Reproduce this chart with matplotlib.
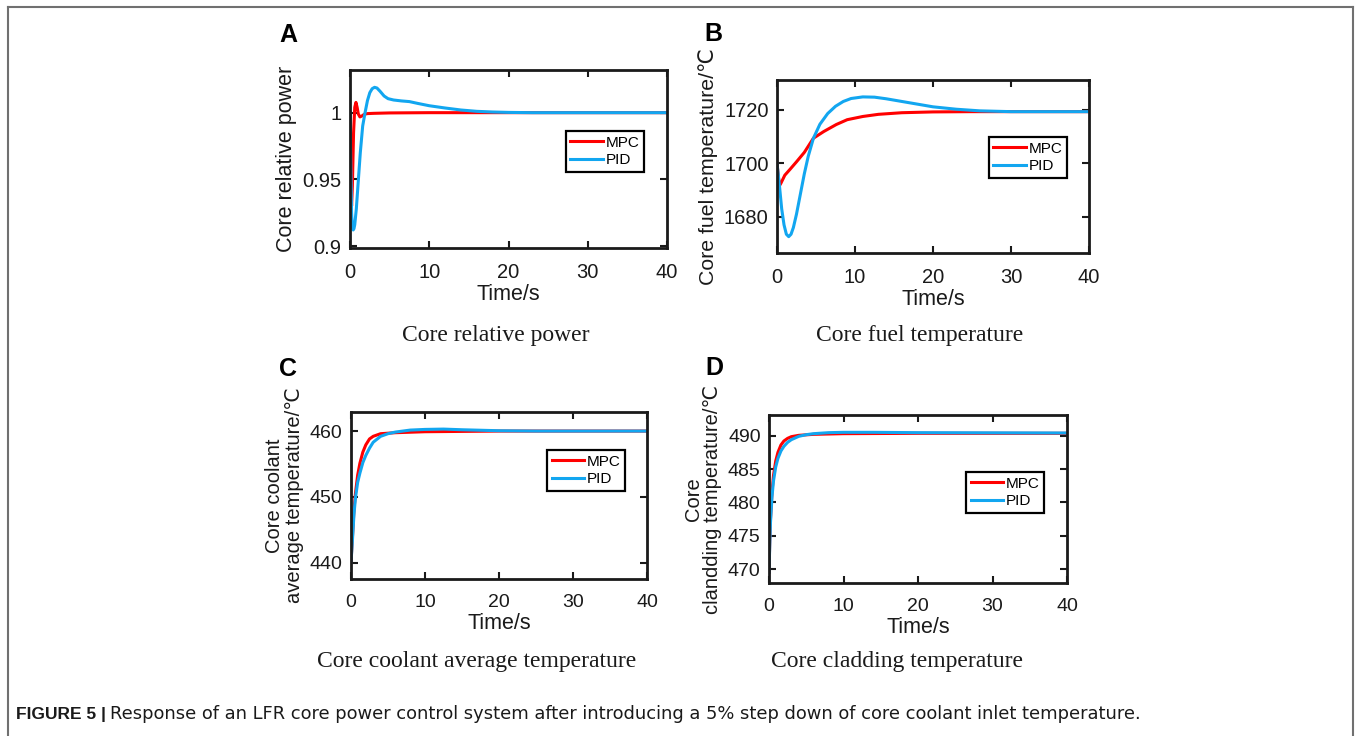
import numpy as np
import matplotlib
matplotlib.use('Agg')
import matplotlib.pyplot as plt
from matplotlib.lines import Line2D

plt.rcParams['font.family'] = ['Liberation Sans', 'DejaVu Sans']

# ---- data ----
# A: core relative power
t_a_mpc = [0, 0.1, 0.2, 0.3, 0.45, 0.6, 0.75, 0.9, 1.05, 1.25, 1.5, 1.8, 2.2, 3, 5, 10, 40]
p_mpc = [1.0, 0.95, 0.93, 0.945, 0.985, 1.004, 1.0077, 1.004, 0.999, 0.9968, 0.9975,
         0.9988, 0.9993, 0.9995, 0.9998, 1.0, 1.0]
t_a_pid = [0, 0.1, 0.2, 0.3, 0.4, 0.5, 0.6, 0.8, 1.0, 1.3, 1.6, 1.9, 2.2, 2.5, 2.8, 3.1,
           3.4, 3.8, 4.3, 4.8, 5.5, 6.5, 7.5, 8.5, 10, 12, 14, 16, 18, 20, 23, 40]
p_pid = [1.0, 0.96, 0.925, 0.914, 0.912, 0.913, 0.916, 0.928, 0.945, 0.97, 0.99, 1.0,
         1.009, 1.015, 1.018, 1.019, 1.0185, 1.016, 1.0125, 1.0105, 1.0095, 1.0088,
         1.0083, 1.007, 1.0052, 1.0035, 1.002, 1.001, 1.0005, 1.0002, 1.0, 1.0]

# B: core fuel temperature
t_b_mpc = [0, 0.3, 0.5, 1, 1.7, 2.5, 3.5, 4.67, 6, 7.6, 9, 11, 13, 16, 20, 25, 40]
f_mpc = [1700, 1691.5, 1692.5, 1695.5, 1697.8, 1700.5, 1704, 1709.3, 1711.8, 1714.4,
         1716.2, 1717.4, 1718.2, 1718.8, 1719.1, 1719.2, 1719.2]
t_b_pid = [0, 0.3, 0.6, 0.9, 1.2, 1.5, 1.8, 2.1, 2.5, 3, 3.5, 4, 4.67, 5.5, 6.5, 7.5,
           8.5, 9.5, 11, 12.5, 14, 16, 18, 20, 23, 26, 30, 40]
f_pid = [1700, 1692, 1683, 1677, 1673.5, 1672.6, 1673.5, 1676, 1681, 1688.5, 1696,
         1702.5, 1709.3, 1714.5, 1718.5, 1721.2, 1723, 1724.1, 1724.7, 1724.6, 1724,
         1723, 1722, 1721, 1720.1, 1719.5, 1719.2, 1719.2]

# C: core coolant average temperature
t_c_mpc = [0, 0.2, 0.4, 0.6, 0.9, 1.2, 1.6, 2, 2.5, 3, 4, 6, 10, 20, 40]
c_mpc = [440, 444, 448, 450.5, 453.3, 455.1, 456.8, 457.9, 458.8, 459.2, 459.6, 459.75,
         459.9, 460.0, 460.0]
t_c_pid = [0, 0.2, 0.4, 0.6, 0.9, 1.2, 1.6, 2, 2.5, 3, 4, 5, 6, 8, 10, 12.5, 15, 20, 25, 40]
c_pid = [440, 443.5, 447.3, 449.8, 452.2, 453.6, 455.2, 456.3, 457.4, 458.3, 459.2,
         459.6, 459.85, 460.15, 460.25, 460.3, 460.2, 460.05, 460.0, 460.0]

# D: core cladding temperature
t_d_mpc = [0, 0.1, 0.2, 0.4, 0.6, 0.9, 1.2, 1.6, 2, 2.5, 3, 4, 6, 10, 20, 40]
d_mpc = [469.5, 474, 477.5, 481.5, 484, 486.2, 487.5, 488.6, 489.2, 489.6, 489.85,
         490.05, 490.2, 490.3, 490.35, 490.35]
t_d_pid = [0, 0.1, 0.2, 0.4, 0.6, 0.9, 1.2, 1.6, 2, 2.5, 3, 4, 5, 6, 8, 10, 14, 20, 40]
d_pid = [469.5, 473.5, 477, 480.8, 483.2, 485.3, 486.6, 487.7, 488.4, 489.0, 489.4,
         489.9, 490.15, 490.3, 490.45, 490.5, 490.5, 490.45, 490.4]

W, H = 1356, 736
RED = '#ff0000'
BLUE = '#12a6f0'
INK = '#1a1a1a'

fig = plt.figure(figsize=(W / 100, H / 100), dpi=100)


def px_box(l, t, r, b):
    return [l / W, 1 - b / H, (r - l) / W, (b - t) / H]


def px(x, y):
    return x / W, 1 - y / H


panels = [
    dict(box=(350, 70, 667, 248), t1=t_a_mpc, y1=p_mpc, t2=t_a_pid, y2=p_pid,
         ylim=(0.8985, 1.032), yticks=[0.9, 0.95, 1.0], ylabels=['0.9', '0.95', '1'],
         ylab='Core relative power', leg=(0.681, 0.657), fs=14.5, lfs=15.5),
    dict(box=(777, 80, 1089, 253), t1=t_b_mpc, y1=f_mpc, t2=t_b_pid, y2=f_pid,
         ylim=(1666.5, 1731), yticks=[1680, 1700, 1720], ylabels=['1680', '1700', '1720'],
         ylab='Core fuel temperature/\u2103', leg=(0.679, 0.671), fs=14.5, lfs=15.3),
    dict(box=(351, 412, 647, 579), t1=t_c_mpc, y1=c_mpc, t2=t_c_pid, y2=c_pid,
         ylim=(437.5, 462.9), yticks=[440, 450, 460], ylabels=['440', '450', '460'],
         ylab='Core coolant\naverage temperature/\u2103', leg=(0.662, 0.772), fs=14, lfs=14.5),
    dict(box=(769, 415, 1067, 583), t1=t_d_mpc, y1=d_mpc, t2=t_d_pid, y2=d_pid,
         ylim=(467.9, 493.1), yticks=[470, 475, 480, 485, 490],
         ylabels=['470', '475', '480', '485', '490'],
         ylab='Core\nclandding temperature/\u2103', leg=(0.661, 0.661), fs=14, lfs=14.5),
]

for p in panels:
    ax = fig.add_axes(px_box(*p['box']))
    ax.plot(p['t1'], p['y1'], color=RED, lw=2.2, label='MPC')
    ax.plot(p['t2'], p['y2'], color=BLUE, lw=2.2, label='PID')
    ax.set_xlim(0, 40)
    ax.set_ylim(*p['ylim'])
    ax.set_xticks([0, 10, 20, 30, 40])
    ax.set_yticks(p['yticks'])
    ax.set_yticklabels(p['ylabels'])
    ax.tick_params(direction='in', length=5, width=1.5, top=True, right=True,
                   labelsize=p['fs'], colors=INK)
    ax.tick_params(axis='x', pad=11)
    ax.tick_params(axis='y', pad=6)
    for s in ax.spines.values():
        s.set_linewidth(2)
        s.set_color(INK)
    ax.set_xlabel('Time/s', fontsize=15.5, color=INK, labelpad=1)
    ax.set_ylabel(p['ylab'], fontsize=p['lfs'], color=INK, labelpad=4,
                  linespacing=1.05)
    leg = ax.legend(loc='upper left', bbox_to_anchor=p['leg'], borderaxespad=0,
                    fontsize=11, handlelength=2.1, handletextpad=0.2,
                    labelspacing=0.25, borderpad=0.3, fancybox=False, framealpha=1)
    leg.get_frame().set_edgecolor('black')
    leg.get_frame().set_linewidth(1.6)

# panel letters
for letter, (x, y) in zip('ABCD', [(279, 35), (704, 34), (279, 369), (705, 368)]):
    fig.text(*px(x, y), letter, fontsize=18, fontweight='bold', va='center', ha='left')

# sub captions
sub = [('Core relative power', 496, 335), ('Core fuel temperature', 920, 335),
       ('Core coolant average temperature', 477, 661), ('Core cladding temperature', 897, 661)]
for txt, x, y in sub:
    fig.text(*px(x, y), txt, fontsize=17, family='Liberation Serif', ha='center',
             va='center', color=INK)

# figure caption
t1 = fig.text(*px(16, 714), 'FIGURE 5 |', fontsize=12.5, fontweight='bold',
              va='center', ha='left', color=INK)
fig.canvas.draw()
bb = t1.get_window_extent()
fig.text(bb.x1 / W + 4 / W, 1 - 714 / H,
         'Response of an LFR core power control system after introducing a 5% step down '
         'of core coolant inlet temperature.', fontsize=12.9, family='DejaVu Sans',
         va='center', ha='left', color=INK)

# outer frame
fc = '#707070'
fig.add_artist(Line2D([8 / W, 8 / W], [0, 1 - 7 / H], color=fc, lw=1.5))
fig.add_artist(Line2D([8 / W, 1353 / W], [1 - 7 / H, 1 - 7 / H], color=fc, lw=1.5))
fig.add_artist(Line2D([1353 / W, 1353 / W], [0, 1 - 7 / H], color=fc, lw=1.5))

fig.savefig('out.png', dpi=100)
